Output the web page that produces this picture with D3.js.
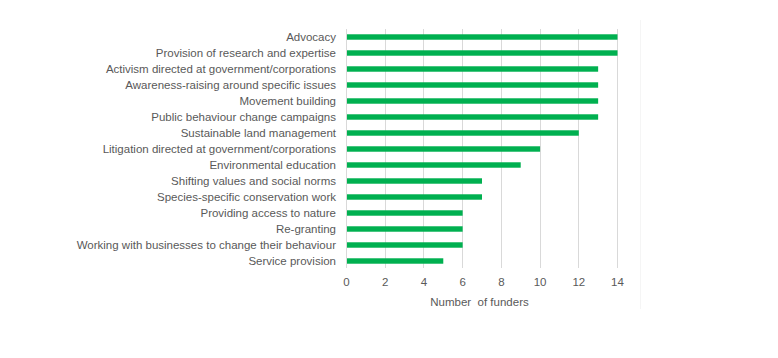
<!DOCTYPE html>
<html><head><meta charset="utf-8">
<script src="https://cdn.jsdelivr.net/npm/d3@7"></script>
<style>
html,body{margin:0;padding:0;background:#fff;}
svg{display:block;font-family:"Liberation Sans",Arial,sans-serif;}
</style></head>
<body><svg id="chart" width="778" height="358"></svg>
<script>
const categories = [
  "Advocacy",
  "Provision of research and expertise",
  "Activism directed at government/corporations",
  "Awareness-raising around specific issues",
  "Movement building",
  "Public behaviour change campaigns",
  "Sustainable land management",
  "Litigation directed at government/corporations",
  "Environmental education",
  "Shifting values and social norms",
  "Species-specific conservation work",
  "Providing access to nature",
  "Re-granting",
  "Working with businesses to change their behaviour",
  "Service provision"
];
const values = [14, 14, 13, 13, 13, 13, 12, 10, 9, 7, 7, 6, 6, 6, 5];
const xTicks = [0, 2, 4, 6, 8, 10, 12, 14];
const xTitle = "Number  of funders";

const svg = d3.select("#chart");
const pLeft = 346, pRight = 617, pTop = 29, pBottom = 269;

const x = d3.scaleLinear().domain([0, 14]).range([pLeft, pRight]);
const y = d3.scaleBand().domain(categories).range([pTop, pBottom]).paddingInner(0.66).paddingOuter(0.33);

// faint chart-area border on right
svg.append("line").attr("x1", 640.5).attr("x2", 640.5).attr("y1", 20).attr("y2", 309)
  .attr("stroke", "#f5f5f5").attr("stroke-width", 1);

// gridlines
svg.append("g").selectAll("line").data(xTicks).join("line")
  .attr("x1", d => Math.round(x(d)) + 0.5).attr("x2", d => Math.round(x(d)) + 0.5)
  .attr("y1", pTop).attr("y2", pBottom - 1)
  .attr("stroke", "#d9d9d9").attr("stroke-width", 1);

// bars
svg.append("g").selectAll("rect").data(categories).join("rect")
  .attr("x", x(0) + 1)
  .attr("y", d => y(d))
  .attr("width", (d, i) => x(values[i]) - x(0) - 0.5)
  .attr("height", y.bandwidth())
  .attr("fill", "#00b050");

// y axis labels
const yAxis = d3.axisLeft(y).tickSize(0).tickPadding(10);
const yg = svg.append("g").attr("transform", `translate(${pLeft},0)`).call(yAxis);
yg.select(".domain").remove();
yg.selectAll("text").attr("fill", "#595959").attr("font-size", 11.5)
  .attr("font-family", "'Liberation Sans', Arial, sans-serif");

// x axis labels
const xAxis = d3.axisBottom(x).tickValues(xTicks).tickSize(0).tickPadding(9);
const xg = svg.append("g").attr("transform", `translate(0,${pBottom})`).call(xAxis);
xg.select(".domain").remove();
xg.selectAll("text").attr("fill", "#595959").attr("font-size", 11.5)
  .attr("font-family", "'Liberation Sans', Arial, sans-serif");

// axis title
svg.append("text").attr("x", (pLeft + pRight) / 2 - 2).attr("y", 306)
  .attr("text-anchor", "middle").attr("fill", "#595959").attr("font-size", 11.5)
  .style("white-space", "pre").attr("xml:space", "preserve")
  .text(xTitle);
</script>
</body></html>
